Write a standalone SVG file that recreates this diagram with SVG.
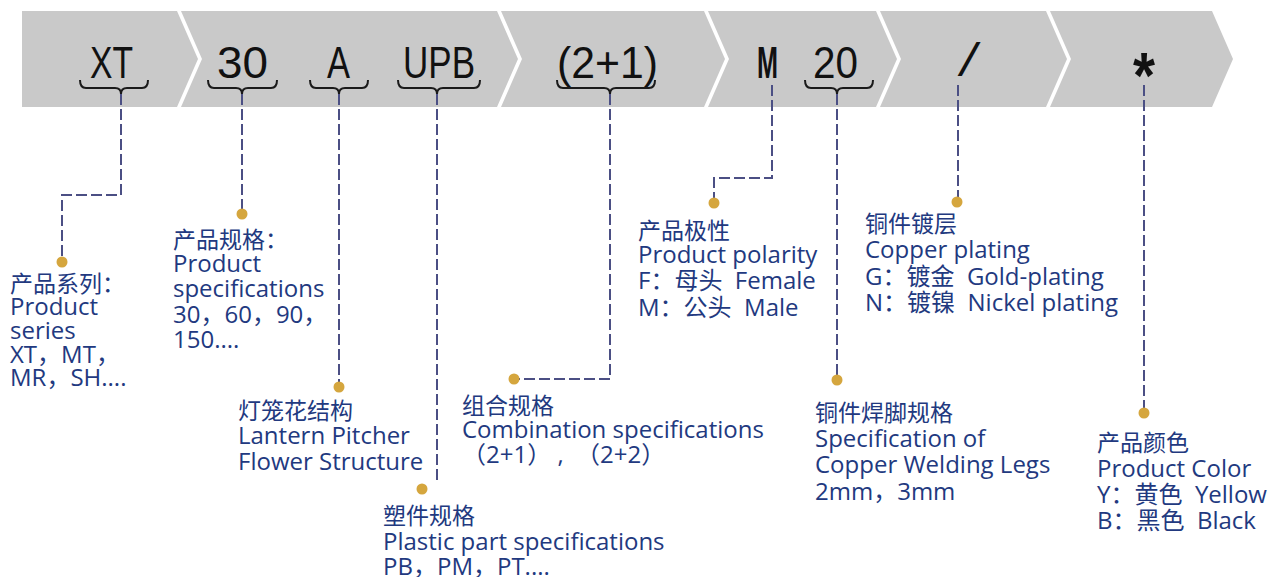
<svg xmlns="http://www.w3.org/2000/svg" width="1285" height="577" viewBox="0 0 1285 577">
<defs>
<style>
.seg{fill:#c9c9c9}
.code{font-family:"Liberation Sans",Arial,sans-serif;font-size:44px;fill:#111}
.brace{fill:none;stroke:#1a1a1a;stroke-width:2}
.conn{fill:none;stroke:#4b4f84;stroke-width:2;stroke-dasharray:11 4}
.dot{fill:#d5a63e}
.lbl{font-family:"Open Sans","Noto Sans CJK SC",sans-serif;font-size:24px;fill:#22397f}
.cjk{font-size:23px}
</style>
</defs>
<rect width="1285" height="577" fill="#fff"/>
<g id="band">
<g id="seg-series"><polygon class="seg" points="22,11 177,11 198,59 177,107 22,107"/><text class="code" x="90" y="78" textLength="43" lengthAdjust="spacingAndGlyphs">XT</text><path class="brace" d="M80,80 Q80,88 86,88 L115,88 Q121,88 121,94 Q121,88 127,88 L142,88 Q148,88 148,80"/></g>
<g id="seg-spec"><polygon class="seg" points="181,11 497,11 518,59 497,107 181,107 202,59"/>
<text class="code" x="217" y="78" textLength="51" lengthAdjust="spacingAndGlyphs">30</text>
<text class="code" x="327" y="78" textLength="23" lengthAdjust="spacingAndGlyphs">A</text>
<text class="code" x="403" y="78" textLength="72" lengthAdjust="spacingAndGlyphs">UPB</text>
<path class="brace" d="M208,80 Q208,88 214,88 L236,88 Q242,88 242,94 Q242,88 248,88 L271,88 Q277,88 277,80"/>
<path class="brace" d="M310,80 Q310,88 316,88 L333,88 Q339,88 339,94 Q339,88 345,88 L362,88 Q368,88 368,80"/>
<path class="brace" d="M398,80 Q398,88 404,88 L431,88 Q437,88 437,94 Q437,88 443,88 L474,88 Q480,88 480,80"/></g>
<g id="seg-combo"><polygon class="seg" points="501,11 704,11 725,59 704,107 501,107 522,59"/>
<text class="code" x="557" y="78" textLength="101" lengthAdjust="spacingAndGlyphs">(2+1)</text>
<path class="brace" d="M557,80 Q557,88 563,88 L604,88 Q610,88 610,94 Q610,88 616,88 L649,88 Q655,88 655,80"/></g>
<g id="seg-polarity"><polygon class="seg" points="708,11 876,11 897,59 876,107 708,107 729,59"/>
<text class="code" x="757" y="78" font-weight="bold" textLength="21" lengthAdjust="spacingAndGlyphs">M</text>
<text class="code" x="813" y="78" textLength="45" lengthAdjust="spacingAndGlyphs">20</text>
<path class="brace" d="M805,80 Q805,88 811,88 L831,88 Q837,88 837,94 Q837,88 843,88 L867,88 Q873,88 873,80"/></g>
<g id="seg-plating"><polygon class="seg" points="880,11 1046,11 1067,59 1046,107 880,107 901,59"/>
<text x="955" y="76" style="font-family:'Liberation Mono','Courier New',monospace;font-size:47px;fill:#111">/</text></g>
<g id="seg-color"><polygon class="seg" points="1050,11 1212,11 1233,59 1212,107 1050,107 1071,59"/>
<text class="code" x="1133" y="98" textLength="22" lengthAdjust="spacingAndGlyphs" style="font-size:64px;font-weight:bold">*</text></g>
</g>
<g id="connectors">
<path class="conn" d="M121,94 V195 H62 V262"/>
<path class="conn" d="M242,94 V214"/>
<path class="conn" d="M339,94 V387"/>
<path class="conn" d="M437,94 V484"/>
<path class="conn" d="M610,94 V379 H514"/>
<path class="conn" d="M772,85 V178 H714 V203"/>
<path class="conn" d="M837,94 V380"/>
<path class="conn" d="M958,85 V202"/>
<path class="conn" d="M1144,85 V413"/>
<circle class="dot" cx="62" cy="262" r="5.5"/>
<circle class="dot" cx="242" cy="214" r="5.5"/>
<circle class="dot" cx="339" cy="387" r="5.5"/>
<circle class="dot" cx="422" cy="489" r="5.5"/>
<circle class="dot" cx="514" cy="379" r="5.5"/>
<circle class="dot" cx="714" cy="203" r="5.5"/>
<circle class="dot" cx="837" cy="380" r="5.5"/>
<circle class="dot" cx="957" cy="202" r="5.5"/>
<circle class="dot" cx="1144" cy="413" r="5.5"/>
</g>
<g id="label-series"><text class="lbl"><tspan class="cjk" x="10" y="292">产品系列：</tspan><tspan x="10" y="315">Product</tspan><tspan x="10" y="339">series</tspan><tspan x="10" y="363">XT，MT，</tspan><tspan x="10" y="386">MR，SH....</tspan></text></g>
<g id="label-spec"><text class="lbl"><tspan class="cjk" x="173" y="248">产品规格：</tspan><tspan x="173" y="272">Product</tspan><tspan x="173" y="297">specifications</tspan><tspan x="173" y="323">30，60，90，</tspan><tspan x="173" y="348">150....</tspan></text></g>
<g id="label-lantern"><text class="lbl"><tspan class="cjk" x="238" y="419">灯笼花结构</tspan><tspan x="238" y="444">Lantern Pitcher</tspan><tspan x="238" y="470">Flower Structure</tspan></text></g>
<g id="label-plastic"><text class="lbl"><tspan class="cjk" x="383" y="524">塑件规格</tspan><tspan x="383" y="550">Plastic part specifications</tspan><tspan x="383" y="575">PB，PM，PT....</tspan></text></g>
<g id="label-combo"><text class="lbl"><tspan class="cjk" x="462" y="414">组合规格</tspan><tspan x="462" y="438">Combination specifications</tspan><tspan x="462" y="463">（2+1）&#160;,&#160;&#160;（2+2）</tspan></text></g>
<g id="label-polarity"><text class="lbl"><tspan class="cjk" x="638" y="239">产品极性</tspan><tspan x="638" y="263">Product polarity</tspan><tspan x="638" y="289">F：母头&#160;&#160;Female</tspan><tspan x="638" y="316">M：公头&#160;&#160;Male</tspan></text></g>
<g id="label-plating"><text class="lbl"><tspan class="cjk" x="865" y="232">铜件镀层</tspan><tspan x="865" y="258">Copper plating</tspan><tspan x="865" y="285">G：镀金&#160;&#160;Gold-plating</tspan><tspan x="865" y="311">N：镀镍&#160;&#160;Nickel plating</tspan></text></g>
<g id="label-legs"><text class="lbl"><tspan class="cjk" x="815" y="421">铜件焊脚规格</tspan><tspan x="815" y="447">Specification of</tspan><tspan x="815" y="473">Copper Welding Legs</tspan><tspan x="815" y="500">2mm，3mm</tspan></text></g>
<g id="label-color"><text class="lbl"><tspan class="cjk" x="1097" y="451">产品颜色</tspan><tspan x="1097" y="477">Product Color</tspan><tspan x="1097" y="503">Y：黄色&#160;&#160;Yellow</tspan><tspan x="1097" y="529">B：黑色&#160;&#160;Black</tspan></text></g>
</svg>
